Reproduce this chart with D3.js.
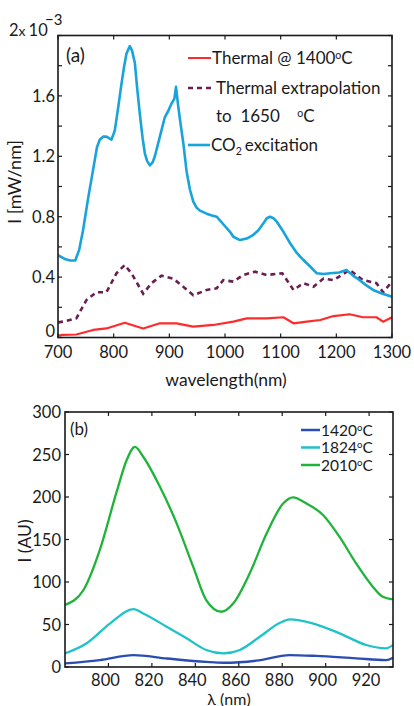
<!DOCTYPE html>
<html>
<head>
<meta charset="utf-8">
<script src="https://cdn.jsdelivr.net/npm/d3@7"></script>
<style>
  html, body { margin: 0; padding: 0; background: #fff; }
  svg { display: block; font-family: Lato, "Liberation Sans", sans-serif; }
</style>
</head>
<body>
<div id="chart"></div>
<script>
// ---- Panel (a): emission spectra, I in units of 1e-3 mW/nm ----
const aWavelength = [700, 712, 722, 731, 738, 745, 754, 763, 770, 775, 781, 787, 796, 802, 808, 814, 819, 823, 829, 833, 838, 842, 847, 852, 856, 860, 865, 870, 874, 883, 892, 898, 904, 909, 912, 916, 920, 925, 931, 937, 943, 949, 955, 967, 975, 985, 997, 1009, 1015, 1027, 1039, 1051, 1060, 1069, 1075, 1081, 1087, 1093, 1105, 1117, 1129, 1141, 1153, 1165, 1177, 1189, 1205, 1218, 1230, 1242, 1254, 1266, 1283, 1300];
const co2Excitation = [0.545, 0.52, 0.51, 0.51, 0.58, 0.71, 0.92, 1.11, 1.26, 1.31, 1.33, 1.33, 1.31, 1.37, 1.52, 1.68, 1.8, 1.88, 1.93, 1.9, 1.82, 1.66, 1.48, 1.32, 1.22, 1.17, 1.14, 1.16, 1.2, 1.33, 1.46, 1.5, 1.55, 1.58, 1.66, 1.53, 1.42, 1.29, 1.1, 0.98, 0.9, 0.86, 0.84, 0.82, 0.81, 0.8, 0.75, 0.7, 0.667, 0.645, 0.655, 0.68, 0.71, 0.756, 0.79, 0.8, 0.79, 0.767, 0.7, 0.624, 0.56, 0.513, 0.47, 0.425, 0.42, 0.425, 0.43, 0.447, 0.41, 0.38, 0.345, 0.315, 0.29, 0.27];

const extrapWavelength = [700, 709, 733, 751, 769, 787, 805, 820, 832, 853, 868, 886, 907, 925, 943, 967, 985, 997, 1015, 1033, 1054, 1075, 1103, 1123, 1141, 1159, 1177, 1195, 1224, 1248, 1272, 1284, 1300];
const thermalExtrap1650 = [0.1, 0.105, 0.127, 0.248, 0.3, 0.3, 0.425, 0.48, 0.425, 0.29, 0.36, 0.41, 0.39, 0.336, 0.28, 0.315, 0.326, 0.38, 0.37, 0.414, 0.436, 0.414, 0.425, 0.315, 0.36, 0.336, 0.39, 0.38, 0.447, 0.38, 0.36, 0.3, 0.37];

const thermalWavelength = [700, 709, 733, 763, 787, 820, 853, 883, 913, 943, 979, 1015, 1039, 1075, 1105, 1123, 1147, 1171, 1195, 1224, 1248, 1272, 1284, 1300];
const thermal1400 = [0.012, 0.017, 0.02, 0.05, 0.06, 0.098, 0.06, 0.094, 0.094, 0.072, 0.083, 0.105, 0.127, 0.127, 0.134, 0.094, 0.105, 0.116, 0.142, 0.154, 0.134, 0.134, 0.105, 0.134];

const aXTicks = [700, 800, 900, 1000, 1100, 1200, 1300];
const aYTicks = [0, 0.2, 0.4, 0.6, 0.8, 1.0, 1.2, 1.4, 1.6, 1.8, 2.0];
const aYLabels = [0, 0.4, 0.8, 1.2, 1.6];

// ---- Panel (b): spectra at three temperatures, arbitrary units ----
const bWavelength = [780, 788.5, 796, 804, 808.4, 812.2, 816, 823.7, 831.4, 839, 845, 852, 857.5, 865, 872.8, 880.5, 885, 891, 898.8, 906.4, 914, 921.7, 926.3, 931];
const t2010 = [73, 90.6, 137.6, 208, 243.5, 259, 247.4, 212, 169, 118, 78.8, 65, 75, 110, 157, 192.6, 199.6, 192.6, 178.8, 153, 122, 94.5, 82.7, 79.6];

const bWavelengthMid = [780, 790, 800.8, 811.5, 816, 826.8, 836, 845, 853, 860.5, 869.7, 879, 883.5, 894, 906.4, 918.7, 927.8, 931];
const t1824 = [16, 28, 51.4, 68, 63, 47.4, 33.7, 20, 16, 20, 35.6, 52, 56, 51.4, 39.6, 25.9, 22, 26];

const bWavelengthLow = [780, 796, 811.5, 827, 845, 853, 868, 883.5, 895.7, 914, 927.8, 931];
const t1420 = [4.3, 8.2, 14, 10, 6, 5, 7.4, 14, 13, 10.2, 8.2, 11];

const bXTicks = [800, 820, 840, 860, 880, 900, 920];
const bYTicks = [0, 50, 100, 150, 200, 250, 300];
const bLegendLabels = ["1420", "1824", "2010"];

const W = 414, H = 706;
const svg = d3.select("#chart").append("svg").attr("width", W).attr("height", H);

const ink = "#1a1a1a";
const tickLen = 4;

function box(g, x, y) {
  const [x0, x1] = x.range(), [y0, y1] = y.range();
  g.append("rect")
    .attr("x", x0).attr("y", y1).attr("width", x1 - x0).attr("height", y0 - y1)
    .attr("fill", "none").attr("stroke", ink).attr("stroke-width", 1.6);
}

function inwardTicks(g, x, y, xt, yt) {
  const [x0, x1] = x.range(), [y0, y1] = y.range();
  const t = g.append("g").attr("stroke", ink).attr("stroke-width", 1.2);
  xt.forEach(v => {
    t.append("line").attr("x1", x(v)).attr("x2", x(v)).attr("y1", y0).attr("y2", y0 - tickLen);
    t.append("line").attr("x1", x(v)).attr("x2", x(v)).attr("y1", y1).attr("y2", y1 + tickLen);
  });
  yt.forEach(v => {
    t.append("line").attr("x1", x0).attr("x2", x0 + tickLen).attr("y1", y(v)).attr("y2", y(v));
    t.append("line").attr("x1", x1).attr("x2", x1 - tickLen).attr("y1", y(v)).attr("y2", y(v));
  });
}

// "1400 oC" style label: a small raised o before the C
function degText(sel, before, after) {
  sel.append("tspan").text(before);
  sel.append("tspan").attr("font-size", "0.62em").attr("dy", "-0.5em").text("o");
  sel.append("tspan").attr("dy", "0.31em").text(after);
}

// ================= Panel (a) =================
{
  const x = d3.scaleLinear().domain([700, 1300]).range([58, 392]);
  const y = d3.scaleLinear().domain([0, 2]).range([337.5, 35.5]);
  const g = svg.append("g");

  g.append("clipPath").attr("id", "clipA").append("rect")
    .attr("x", 58).attr("y", 35.5).attr("width", 334).attr("height", 302);

  const line = (xs) => d3.line().x((d, i) => x(xs[i])).y(d => y(d));

  const plot = g.append("g").attr("clip-path", "url(#clipA)");
  plot.append("path").datum(thermal1400).attr("d", line(thermalWavelength))
    .attr("fill", "none").attr("stroke", "#ff2a2a").attr("stroke-width", 2.2).attr("stroke-linejoin", "round");
  plot.append("path").datum(thermalExtrap1650).attr("d", line(extrapWavelength))
    .attr("fill", "none").attr("stroke", "#6a1f52").attr("stroke-width", 2.6).attr("stroke-dasharray", "5,4");
  plot.append("path").datum(co2Excitation).attr("d", line(aWavelength))
    .attr("fill", "none").attr("stroke", "#19a3db").attr("stroke-width", 2.6).attr("stroke-linejoin", "round");

  box(g, x, y);
  inwardTicks(g, x, y, aXTicks, aYTicks);

  const fs = 16.5;
  g.append("g").selectAll("text").data(aXTicks).join("text")
    .attr("x", d => x(d)).attr("y", 358).attr("text-anchor", "middle")
    .attr("font-size", fs).attr("fill", ink).text(d => d);
  g.append("g").selectAll("text").data(aYLabels).join("text")
    .attr("x", 55).attr("y", d => y(d) + (d === 0 ? -0.5 : 6)).attr("text-anchor", "end")
    .attr("font-size", fs).attr("fill", ink).text(d => d3.format("")(d));

  // top label carries the 2 and the common exponent
  const ex = g.append("text").attr("x", 9).attr("y", 36).attr("font-size", fs).attr("fill", ink);
  ex.append("tspan").text("2");
  ex.append("tspan").attr("font-size", "0.85em").text("x");
  ex.append("tspan").attr("dx", 3).text("10");
  g.append("text").attr("x", 45).attr("y", 25).attr("font-size", 15).attr("fill", ink).text("\u22123");

  g.append("text").attr("x", 226).attr("y", 386).attr("text-anchor", "middle")
    .attr("font-size", 17.5).attr("fill", ink).text("wavelength(nm)");
  g.append("text").attr("transform", "translate(21,182) rotate(-90)").attr("text-anchor", "middle")
    .attr("font-size", 18).attr("fill", ink).text("I [mW/nm]");

  g.append("text").attr("x", 66).attr("y", 62).attr("font-size", 19).attr("fill", ink).text("(a)");

  // legend
  const lg = g.append("g").attr("font-size", 17).attr("fill", ink);
  lg.append("line").attr("x1", 188).attr("x2", 211).attr("y1", 58).attr("y2", 58)
    .attr("stroke", "#ff2a2a").attr("stroke-width", 2);
  degText(lg.append("text").attr("x", 212).attr("y", 64), "Thermal @ 1400", "C");
  lg.append("line").attr("x1", 188).attr("x2", 212).attr("y1", 88).attr("y2", 88)
    .attr("stroke", "#6a1f52").attr("stroke-width", 2.6).attr("stroke-dasharray", "5,4");
  lg.append("text").attr("x", 216).attr("y", 94).text("Thermal extrapolation");
  degText(lg.append("text").attr("x", 216).attr("y", 122).attr("xml:space", "preserve"), "to  1650    ", "C");
  lg.append("line").attr("x1", 188).attr("x2", 210).attr("y1", 145).attr("y2", 145)
    .attr("stroke", "#19a3db").attr("stroke-width", 2.6);
  const co2 = lg.append("text").attr("x", 211).attr("y", 151);
  co2.append("tspan").text("CO");
  co2.append("tspan").attr("font-size", "0.62em").attr("dy", "0.35em").text("2");
  co2.append("tspan").attr("dy", "-0.22em").attr("dx", 3).text("excitation");
}

// ================= Panel (b) =================
{
  const x = d3.scaleLinear().domain([780, 931]).range([65, 393]);
  const y = d3.scaleLinear().domain([0, 300]).range([667, 412]);
  const g = svg.append("g");

  g.append("clipPath").attr("id", "clipB").append("rect")
    .attr("x", 65).attr("y", 412).attr("width", 328).attr("height", 255);

  const line = (xs) => d3.line().curve(d3.curveMonotoneX).x((d, i) => x(xs[i])).y(d => y(d));
  const plot = g.append("g").attr("clip-path", "url(#clipB)");
  const colors = ["#2a4db3", "#1fc2c6", "#1fb33a"];
  const series = [
    { xs: bWavelength, ys: t2010, color: colors[2] },
    { xs: bWavelengthMid, ys: t1824, color: colors[1] },
    { xs: bWavelengthLow, ys: t1420, color: colors[0] }
  ];
  series.forEach(s => {
    plot.append("path").datum(s.ys).attr("d", line(s.xs))
      .attr("fill", "none").attr("stroke", s.color).attr("stroke-width", 2.3);
  });

  box(g, x, y);
  inwardTicks(g, x, y, bXTicks, bYTicks);

  const fs = 16.5;
  g.append("g").selectAll("text").data(bXTicks).join("text")
    .attr("x", d => x(d) - 3).attr("y", 686).attr("text-anchor", "middle")
    .attr("font-size", fs).attr("fill", ink).text(d => d);
  g.append("g").selectAll("text").data(bYTicks).join("text")
    .attr("x", 61).attr("y", d => y(d) + 6).attr("text-anchor", "end")
    .attr("font-size", fs).attr("fill", ink).text(d => d);

  g.append("text").attr("x", 229).attr("y", 704.5).attr("text-anchor", "middle")
    .attr("font-size", 16).attr("fill", ink).text("\u03bb (nm)");
  g.append("text").attr("transform", "translate(31,541) rotate(-90)").attr("text-anchor", "middle")
    .attr("font-size", 17.5).attr("fill", ink).text("I (AU)");

  g.append("text").attr("x", 70).attr("y", 435).attr("font-size", 17).attr("fill", ink).text("(b)");

  const lg = g.append("g").attr("font-size", 15.5).attr("fill", ink);
  bLegendLabels.forEach((label, i) => {
    const yy = 430 + i * 17.5;
    lg.append("line").attr("x1", 301).attr("x2", 320).attr("y1", yy).attr("y2", yy)
      .attr("stroke", colors[i]).attr("stroke-width", 2.5);
    degText(lg.append("text").attr("x", 321).attr("y", yy + 5.5), label, "C");
  });
}
</script>
</body>
</html>
